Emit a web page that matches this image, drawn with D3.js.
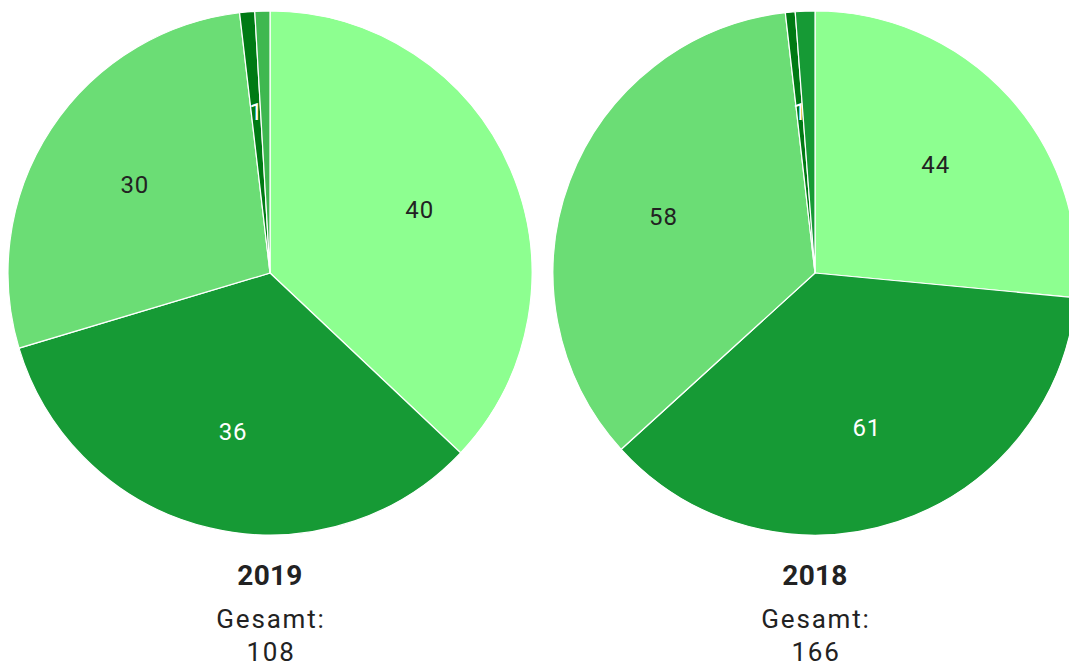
<!DOCTYPE html>
<html>
  <head>
    <meta charset="utf-8">
    <title>Gesamt 2019 / 2018</title>
    <style>
      body { margin: 0; background: #fff; }
      svg { font-family: Roboto, Arial, sans-serif; display: block; }
      .slice { stroke: #fff; stroke-width: 1.2px; }
      .lbl { font-size: 24px; letter-spacing: 0.9px; text-anchor: middle; dominant-baseline: central; }
      .year { font-size: 28px; font-weight: bold; letter-spacing: 0.3px; text-anchor: middle; fill: #222; }
      .sub { font-size: 26px; letter-spacing: 1.8px; text-anchor: middle; fill: #222; }
    </style>
  </head>
  <body>
    <svg width="1069" height="666"></svg>

    <script src="https://d3js.org/d3.v7.min.js"></script>
    <script>
      // Data, slices clockwise from 12 o'clock
      const years = ['2019', '2018'];
      const values2019 = [40, 36, 30, 1, 1];
      const values2018 = [44, 61, 58, 1, 2];
      const colors2019 = ['#8dff90', '#169a35', '#6bdd75', '#007a14', '#3fb850'];
      const colors2018 = ['#8dff90', '#169a35', '#6bdd75', '#007a14', '#169a35'];
      const textColors = ['#222', '#fff', '#222', '#fff', '#fff'];

      const pies = [
        { year: years[0], values: values2019, colors: colors2019, cx: 270 },
        { year: years[1], values: values2018, colors: colors2018, cx: 815 }
      ];

      const cy = 273;
      const radius = 262;

      const svg = d3.select('svg');

      const pie = d3.pie().sort(null).value(d => d);
      const arc = d3.arc().innerRadius(0).outerRadius(radius);
      const labelArc = d3.arc().innerRadius(radius * 0.62).outerRadius(radius * 0.62);

      pies.forEach(p => {
        const g = svg.append('g').attr('transform', `translate(${p.cx},${cy})`);
        const arcs = pie(p.values);

        g.selectAll('path')
          .data(arcs)
          .enter()
          .append('path')
          .attr('class', 'slice')
          .attr('fill', (d, i) => p.colors[i])
          .attr('d', arc);

        // drop labels that would collide with one already placed
        const placed = [];
        arcs.forEach((d, i) => {
          const [x, y] = labelArc.centroid(d);
          if (placed.some(q => Math.hypot(q[0] - x, q[1] - y) < 14)) return;
          placed.push([x, y]);
          g.append('text')
            .attr('class', 'lbl')
            .attr('x', x + 0.5)
            .attr('y', y + 1)
            .attr('fill', textColors[i])
            .text(d.data);
        });

        const total = d3.sum(p.values);
        svg.append('text').attr('class', 'year')
          .attr('x', p.cx).attr('y', 585).text(p.year);
        svg.append('text').attr('class', 'sub')
          .attr('x', p.cx + 1).attr('y', 628).text('Gesamt:');
        svg.append('text').attr('class', 'sub')
          .attr('x', p.cx + 1).attr('y', 661).text(total);
      });
    </script>
  </body>
</html>
